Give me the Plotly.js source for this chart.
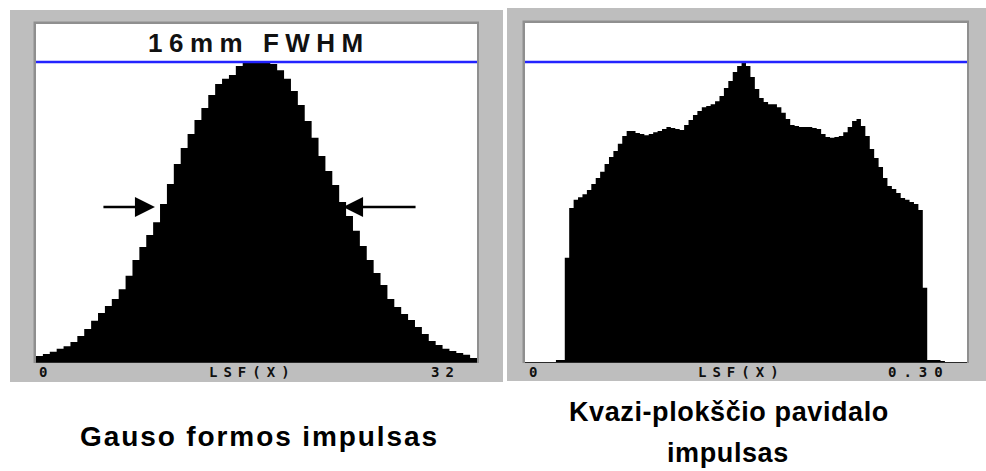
<!DOCTYPE html>
<html>
<head>
<meta charset="utf-8">
<script src="https://cdn.plot.ly/plotly-3.0.1.min.js"></script>
<style>
  html, body { margin: 0; padding: 0; background: #ffffff; }
  #chart { width: 986px; height: 471px; }
</style>
</head>
<body>
<div id="chart"></div>
<script>
// Line spread function, Gaussian beam: 64 bins over 0..32 mm, normalised to the peak
const gaussRange = [0, 32];
const gaussLsf = [
  0.023, 0.030, 0.037, 0.047, 0.056, 0.070, 0.090, 0.113, 0.140, 0.166,
  0.189, 0.213, 0.245, 0.290, 0.342, 0.385, 0.425, 0.468, 0.528, 0.595,
  0.661, 0.714, 0.761, 0.807, 0.847, 0.890, 0.927, 0.944, 0.957, 0.987,
  0.997, 1.000, 1.000, 1.000, 0.993, 0.973, 0.944, 0.904, 0.857, 0.804,
  0.748, 0.688, 0.638, 0.591, 0.535, 0.488, 0.439, 0.389, 0.342, 0.299,
  0.259, 0.213, 0.186, 0.163, 0.143, 0.120, 0.096, 0.073, 0.060, 0.047,
  0.040, 0.033, 0.027, 0.017
];

// Line spread function, quasi-flat-top beam: 100 bins over 0..0.30
const flatRange = [0, 0.30];
const flatLsf = [
  0, 0, 0, 0, 0, 0, 0, 0.010, 0.010, 0.350,
  0.515, 0.542, 0.551, 0.561, 0.575, 0.595, 0.615, 0.635, 0.661, 0.684,
  0.704, 0.728, 0.754, 0.771, 0.771, 0.764, 0.761, 0.757, 0.761, 0.767,
  0.771, 0.777, 0.784, 0.781, 0.777, 0.774, 0.791, 0.807, 0.824, 0.837,
  0.850, 0.854, 0.860, 0.870, 0.887, 0.914, 0.937, 0.967, 0.987, 1.000,
  0.987, 0.950, 0.910, 0.880, 0.867, 0.860, 0.860, 0.850, 0.831, 0.811,
  0.791, 0.787, 0.784, 0.784, 0.784, 0.781, 0.777, 0.761, 0.751, 0.748,
  0.751, 0.754, 0.767, 0.784, 0.804, 0.811, 0.787, 0.754, 0.711, 0.681,
  0.651, 0.615, 0.588, 0.578, 0.565, 0.548, 0.542, 0.535, 0.528, 0.508,
  0.250, 0.010, 0.010, 0.010, 0.007, 0, 0, 0, 0, 0
];

// Reference level (peak) marked by the blue line
const peakLevel = 1.0;
// Half-maximum level where the FWHM arrows point, and their edge positions (mm)
const halfLevel = 0.518;
const fwhmEdges = [8.63, 22.28];

// Axis and caption texts
const gaussTitle = '16mm FWHM';
const axisName = 'LSF(X)';
const gaussTicks = ['0', '32'];
const flatTicks = ['0', '0.30'];
const gaussCaption = 'Gauso formos impulsas';
const flatCaption = ['Kvazi-plokščio pavidalo', 'impulsas'];

// Build a filled staircase (histogram outline) from bin heights
function staircase(vals, range) {
  const bw = (range[1] - range[0]) / vals.length;
  const xs = [], ys = [];
  for (let i = 0; i <= vals.length; i++) {
    xs.push(range[0] + i * bw);
    ys.push(vals[Math.min(i, vals.length - 1)]);
  }
  return { xs, ys };
}

const W = 986, H = 471;
const px = x => x / W;
const py = y => 1 - y / H;

const g = staircase(gaussLsf, gaussRange);
const f = staircase(flatLsf, flatRange);

const traces = [
  {
    x: g.xs, y: g.ys, xaxis: 'x', yaxis: 'y',
    type: 'scatter', mode: 'lines', line: { shape: 'hv', color: '#000', width: 0 },
    fill: 'tozeroy', fillcolor: '#000', hoverinfo: 'skip', showlegend: false
  },
  {
    x: f.xs, y: f.ys, xaxis: 'x2', yaxis: 'y2',
    type: 'scatter', mode: 'lines', line: { shape: 'hv', color: '#000', width: 0 },
    fill: 'tozeroy', fillcolor: '#000', hoverinfo: 'skip', showlegend: false
  }
];

const yTop1 = (363 - 24) / 301 * peakLevel;
const yTop2 = (363 - 23) / 301 * peakLevel;

const hidden = { showgrid: false, zeroline: false, showticklabels: false, ticks: '', showline: false, fixedrange: true };

const pixelFont = { family: 'DejaVu Sans Mono', size: 14, color: '#101010', weight: 700 };
const capFont = { family: 'Liberation Sans', size: 27, color: '#000', weight: 700 };

const layout = {
  width: W, height: H,
  margin: { l: 0, r: 0, t: 0, b: 0 },
  paper_bgcolor: '#ffffff',
  plot_bgcolor: 'rgba(0,0,0,0)',
  showlegend: false,
  xaxis: Object.assign({ domain: [px(36), px(477)], range: gaussRange, anchor: 'y' }, hidden),
  yaxis: Object.assign({ domain: [py(363), py(24)], range: [0, yTop1], anchor: 'x' }, hidden),
  xaxis2: Object.assign({ domain: [px(525), px(967)], range: flatRange, anchor: 'y2' }, hidden),
  yaxis2: Object.assign({ domain: [py(363), py(23)], range: [0, yTop2], anchor: 'x2' }, hidden),
  shapes: [
    // grey instrument frames
    { type: 'rect', xref: 'paper', yref: 'paper', x0: px(10), x1: px(503), y0: py(382), y1: py(10),
      fillcolor: '#bebebe', line: { width: 0 }, layer: 'below' },
    { type: 'rect', xref: 'paper', yref: 'paper', x0: px(507), x1: px(986), y0: py(381), y1: py(8),
      fillcolor: '#bebebe', line: { width: 0 }, layer: 'below' },
    // inset edges of the display windows
    { type: 'rect', xref: 'paper', yref: 'paper', x0: px(33.5), x1: px(479), y0: py(363), y1: py(21.5),
      fillcolor: '#8f8f8f', line: { width: 0 }, layer: 'below' },
    { type: 'rect', xref: 'paper', yref: 'paper', x0: px(522.5), x1: px(969), y0: py(363), y1: py(20.5),
      fillcolor: '#8f8f8f', line: { width: 0 }, layer: 'below' },
    // white display windows
    { type: 'rect', xref: 'paper', yref: 'paper', x0: px(36), x1: px(477), y0: py(363), y1: py(24),
      fillcolor: '#ffffff', line: { width: 0 }, layer: 'below' },
    { type: 'rect', xref: 'paper', yref: 'paper', x0: px(525), x1: px(967), y0: py(363), y1: py(23),
      fillcolor: '#ffffff', line: { width: 0 }, layer: 'below' },
    // base lines
    { type: 'line', xref: 'x domain', yref: 'y', x0: 0, x1: 1, y0: 0, y1: 0,
      line: { color: '#2a2a2a', width: 2 }, layer: 'above' },
    { type: 'line', xref: 'x2 domain', yref: 'y2', x0: 0, x1: 1, y0: 0, y1: 0,
      line: { color: '#2a2a2a', width: 2 }, layer: 'above' },
    // peak reference lines
    { type: 'line', xref: 'x domain', yref: 'y', x0: 0, x1: 1, y0: peakLevel, y1: peakLevel,
      line: { color: '#2323ff', width: 2.5 }, layer: 'above' },
    { type: 'line', xref: 'x2 domain', yref: 'y2', x0: 0, x1: 1, y0: peakLevel, y1: peakLevel,
      line: { color: '#2323ff', width: 2.5 }, layer: 'above' }
  ],
  annotations: [
    // title in the Gaussian window
    { xref: 'paper', yref: 'paper', x: px(259), y: py(43), xanchor: 'center', yanchor: 'middle',
      text: '<span style="letter-spacing:6.5px">' + gaussTitle + '</span>', showarrow: false,
      font: { family: 'Liberation Sans', size: 26, color: '#111', weight: 700 } },
    // FWHM arrows
    { xref: 'x', yref: 'y', x: fwhmEdges[0], y: halfLevel, ax: -53, ay: 0, text: '',
      showarrow: true, arrowhead: 2, arrowsize: 1.6, arrowwidth: 2.5, arrowcolor: '#000', standoff: 0 },
    { xref: 'x', yref: 'y', x: fwhmEdges[1], y: halfLevel, ax: 74, ay: 0, text: '',
      showarrow: true, arrowhead: 2, arrowsize: 1.6, arrowwidth: 2.5, arrowcolor: '#000', standoff: 0 },
    // axis strip labels, Gaussian
    { xref: 'x domain', yref: 'paper', x: 0.002, y: py(372), xanchor: 'left', yanchor: 'middle',
      text: gaussTicks[0], showarrow: false, font: pixelFont },
    { xref: 'x domain', yref: 'paper', x: 0.49, y: py(372), xanchor: 'center', yanchor: 'middle',
      text: '<span style="letter-spacing:6px">' + axisName + '</span>', showarrow: false, font: pixelFont },
    { xref: 'x domain', yref: 'paper', x: 0.966, y: py(372), xanchor: 'right', yanchor: 'middle',
      text: '<span style="letter-spacing:6px">' + gaussTicks[1] + '</span>', showarrow: false, font: pixelFont },
    // axis strip labels, flat-top
    { xref: 'x2 domain', yref: 'paper', x: 0.004, y: py(372), xanchor: 'left', yanchor: 'middle',
      text: flatTicks[0], showarrow: false, font: pixelFont },
    { xref: 'x2 domain', yref: 'paper', x: 0.49, y: py(372), xanchor: 'center', yanchor: 'middle',
      text: '<span style="letter-spacing:6px">' + axisName + '</span>', showarrow: false, font: pixelFont },
    { xref: 'x2 domain', yref: 'paper', x: 0.966, y: py(372), xanchor: 'right', yanchor: 'middle',
      text: '<span style="letter-spacing:7px">' + flatTicks[1] + '</span>', showarrow: false, font: pixelFont },
    // captions
    { xref: 'paper', yref: 'paper', x: px(259.5), y: py(436), xanchor: 'center', yanchor: 'middle',
      text: '<span style="letter-spacing:1.9px">' + gaussCaption + '</span>', showarrow: false,
      font: Object.assign({}, capFont, { size: 28 }) },
    { xref: 'paper', yref: 'paper', x: px(729), y: py(412), xanchor: 'center', yanchor: 'middle',
      text: '<span style="letter-spacing:0.6px">' + flatCaption[0] + '</span>', showarrow: false, font: capFont },
    { xref: 'paper', yref: 'paper', x: px(728), y: py(453), xanchor: 'center', yanchor: 'middle',
      text: '<span style="letter-spacing:0.6px">' + flatCaption[1] + '</span>', showarrow: false, font: capFont }
  ]
};

Plotly.newPlot('chart', traces, layout, { staticPlot: true, displayModeBar: false });
</script>
</body>
</html>
